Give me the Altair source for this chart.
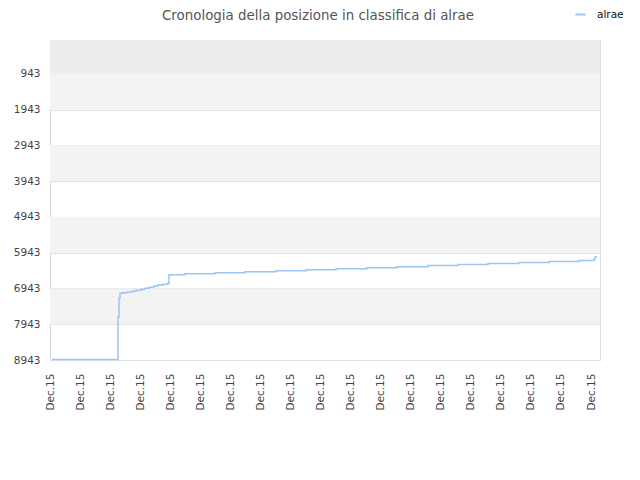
import altair as alt
import pandas as pd

# x positions in label units (each "Dec.15" tick = 1 unit), rank values
xs = [0.033, 2.233, 2.267, 2.3, 2.4, 2.533, 2.7, 2.833, 3.0, 3.133, 3.267, 3.433,
      3.567, 3.733, 3.9, 3.933, 4.467, 5.467, 6.467, 7.5, 8.5, 9.5, 10.533, 11.533,
      12.567, 13.567, 14.567, 15.6, 16.6, 17.6, 18.1, 18.133, 18.167]
ranks = [8930, 7742, 7210, 7079, 7062, 7043, 7023, 6995, 6967, 6939, 6911, 6875,
         6847, 6827, 6800, 6559, 6531, 6503, 6475, 6447, 6419, 6391, 6363, 6335,
         6302, 6274, 6246, 6218, 6190, 6162, 6121, 6065, 6037]
series = "alrae"

y_ticks = [943, 1943, 2943, 3943, 4943, 5943, 6943, 7943, 8943]
x_ticks = list(range(19))
x_label = "Dec.15"

band_lo = [0, 943, 2943, 4943, 6943]
band_hi = [943, 1943, 3943, 5943, 7943]
band_fill = ["#ededed", "#f3f3f3", "#f3f3f3", "#f3f3f3", "#f3f3f3"]

line_df = pd.DataFrame({"x": xs, "rank": ranks, "series": [series] * len(xs)})
band_df = pd.DataFrame({"lo": band_lo, "hi": band_hi, "fill": band_fill})

x_scale = alt.Scale(domain=[-0.0333, 18.3], nice=False, zero=False)
y_scale = alt.Scale(domain=[0, 8943], reverse=True, nice=False, zero=False)

y_axis = alt.Axis(values=y_ticks, format="d", grid=True, gridColor="#e0e0e0", ticks=False,
                  domain=True, domainColor="#d8d8d8", title=None,
                  labelFont="DejaVu Sans", labelFontSize=10.5, labelColor="#444",
                  labelPadding=10)

bands = alt.Chart(band_df).mark_rect().encode(
    y=alt.Y("lo:Q", scale=y_scale, axis=y_axis),
    y2="hi:Q",
    x=alt.value(0),
    x2=alt.value(550),
    fill=alt.Fill("fill:N", scale=None),
)

line = alt.Chart(line_df).mark_line(interpolate="step-after", strokeWidth=1.5).encode(
    x=alt.X("x:Q", scale=x_scale,
            axis=alt.Axis(values=x_ticks, labelExpr=f"'{x_label}'", labelAngle=-90,
                          grid=False, ticks=False, domain=False, title=None,
                          labelFont="DejaVu Sans", labelFontSize=10.5, labelColor="#444",
                          labelPadding=13, labelAlign="right", labelBaseline="middle")),
    y=alt.Y("rank:Q", scale=y_scale, axis=y_axis),
    color=alt.Color("series:N", scale=alt.Scale(domain=[series], range=["#9ac5f4"]),
                    legend=alt.Legend(orient="none", legendX=524, legendY=-32, title=None,
                                      symbolType="stroke", symbolSize=110, symbolStrokeWidth=2,
                                      labelFont="DejaVu Sans", labelFontSize=10.5,
                                      labelOffset=10, labelColor="#111", symbolOffset=0)),
)

chart = alt.layer(bands, line).properties(
    width=550,
    height=320,
    title=alt.TitleParams("Cronologia della posizione in classifica di alrae",
                          font="DejaVu Sans", fontSize=13.4, fontWeight="normal",
                          color="#555", anchor="middle", offset=-14, dx=-7),
    autosize=alt.AutoSizeParams(type="none"),
    padding={"left": 42, "top": 32, "right": 30, "bottom": 100},
).configure_view(stroke="#dddddd", fill="white").configure(background="white")

chart.save("out.html", embed_options={"renderer": "svg", "actions": False})
